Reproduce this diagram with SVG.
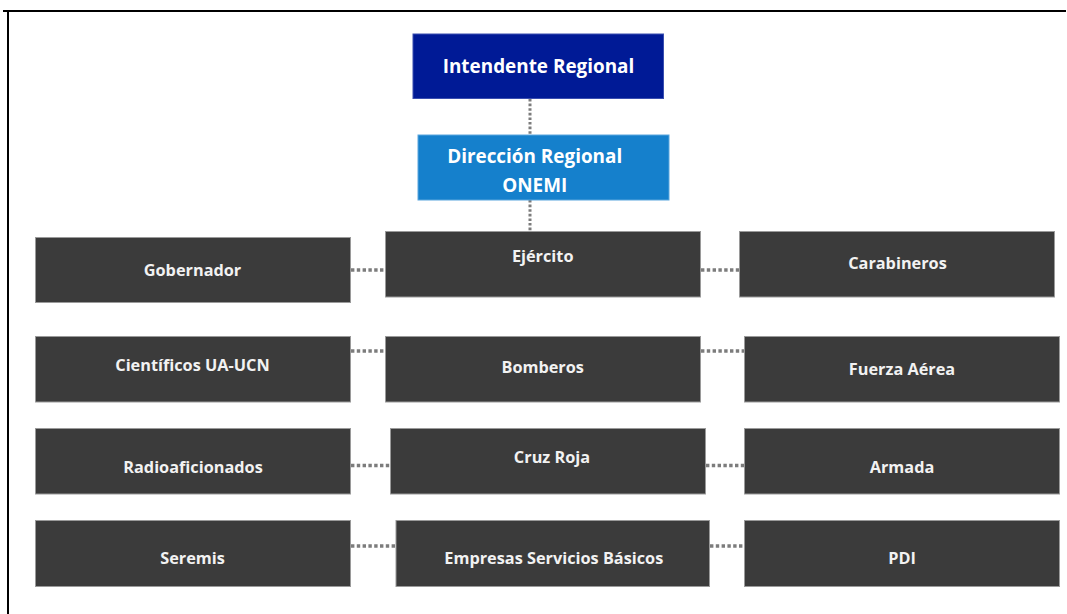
<svg xmlns="http://www.w3.org/2000/svg" width="1067" height="614" viewBox="0 0 1067 614">
<style>
.box{fill:#3b3b3b;stroke:#9a9a9a;stroke-width:1}
.t{font-family:"Open Sans","Noto Sans","Liberation Sans",sans-serif;font-weight:bold;fill:#f2f2f2;text-anchor:middle;font-size:16.3px}
.th{font-family:"Open Sans","Noto Sans","Liberation Sans",sans-serif;font-weight:bold;fill:#ffffff;text-anchor:middle;font-size:18.9px}
.dot{stroke:#7c7c7c;stroke-width:3.6;stroke-dasharray:3.4 2.4;fill:none}
.vdot{stroke:#7c7c7c;stroke-width:3;stroke-dasharray:2.6 2;fill:none}
</style>
<rect width="1067" height="614" fill="#ffffff"/>
<g id="frame">
<line x1="3" y1="11" x2="1066" y2="11" stroke="#000" stroke-width="2"/>
<line x1="8" y1="10" x2="8" y2="614" stroke="#000" stroke-width="2"/>
</g>
<g id="connectors">
<line class="vdot" x1="530" y1="99" x2="530" y2="135"/>
<line class="vdot" x1="530" y1="200" x2="530" y2="231"/>
<line class="dot" x1="351" y1="270" x2="385" y2="270"/>
<line class="dot" x1="701" y1="270" x2="739" y2="270"/>
<line class="dot" x1="351" y1="351" x2="385" y2="351"/>
<line class="dot" x1="701" y1="351" x2="744" y2="351"/>
<line class="dot" x1="351" y1="465.5" x2="390" y2="465.5"/>
<line class="dot" x1="706" y1="465.5" x2="744" y2="465.5"/>
<line class="dot" x1="351" y1="546" x2="396" y2="546"/>
<line class="dot" x1="710" y1="546" x2="744" y2="546"/>
</g>
<g id="intendente">
<rect x="413" y="34" width="250.5" height="64.5" fill="#001a96" stroke="#3a4fb0" stroke-width="1"/>
<text class="th" x="538.5" y="72.7">Intendente Regional</text>
</g>
<g id="direccion">
<rect x="418" y="135" width="251" height="65" fill="#1580cc" stroke="#5aa6dd" stroke-width="1"/>
<text class="th" x="534.7" y="163.3">Dirección Regional</text>
<text class="th" x="534.7" y="191.7">ONEMI</text>
</g>
<g id="gobernador">
<rect class="box" x="35.5" y="237.5" width="315" height="65"/>
<text class="t" x="192.5" y="275.7">Gobernador</text>
</g>
<g id="ejercito">
<rect class="box" x="385.5" y="231.5" width="315" height="65.5"/>
<text class="t" x="542.7" y="262.3">Ejército</text>
</g>
<g id="carabineros">
<rect class="box" x="739.5" y="231.5" width="315" height="65.5"/>
<text class="t" x="897.5" y="269.3">Carabineros</text>
</g>
<g id="cientificos">
<rect class="box" x="35.5" y="336.5" width="315" height="65.5"/>
<text class="t" x="192.5" y="370.7">Científicos UA-UCN</text>
</g>
<g id="bomberos">
<rect class="box" x="385.5" y="336.5" width="315" height="65.5"/>
<text class="t" x="542.7" y="372.7">Bomberos</text>
</g>
<g id="fuerza-aerea">
<rect class="box" x="744.5" y="336.5" width="315" height="65.5"/>
<text class="t" x="902" y="375">Fuerza Aérea</text>
</g>
<g id="radioaficionados">
<rect class="box" x="35.5" y="428.5" width="315" height="65.5"/>
<text class="t" x="193" y="473">Radioaficionados</text>
</g>
<g id="cruz-roja">
<rect class="box" x="390.5" y="428.5" width="315" height="65.5"/>
<text class="t" x="552" y="463.3">Cruz Roja</text>
</g>
<g id="armada">
<rect class="box" x="744.5" y="428.5" width="315" height="65.5"/>
<text class="t" x="902" y="473">Armada</text>
</g>
<g id="seremis">
<rect class="box" x="35.5" y="520.5" width="315" height="66"/>
<text class="t" x="192.5" y="564">Seremis</text>
</g>
<g id="empresas">
<rect class="box" x="396" y="520.5" width="313.5" height="66"/>
<text class="t" x="553.8" y="564.3">Empresas Servicios Básicos</text>
</g>
<g id="pdi">
<rect class="box" x="744.5" y="520.5" width="315" height="66"/>
<text class="t" x="902" y="564">PDI</text>
</g>
</svg>
